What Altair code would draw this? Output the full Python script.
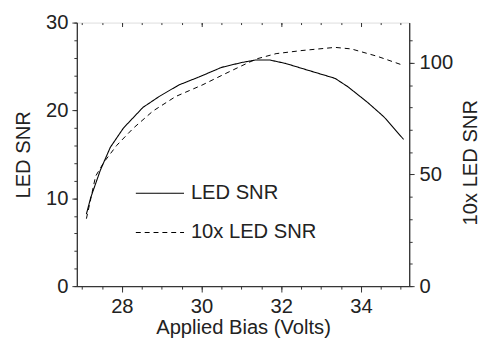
import altair as alt
import pandas as pd

# Solid curve: LED SNR (left axis)
bias_solid = [27.11, 27.22, 27.46, 27.71, 28.04, 28.53, 28.94, 29.43, 29.93, 30.50,
              31.00, 31.37, 31.70, 32.11, 32.69, 33.35, 33.67, 34.17, 34.58, 35.07]
snr_solid = [8.2, 10.1, 13.2, 15.8, 18.0, 20.35, 21.6, 22.9, 23.8, 24.9,
             25.45, 25.75, 25.75, 25.35, 24.55, 23.65, 22.7, 20.9, 19.25, 16.7]

# Dashed curve: 10x LED SNR (right axis)
bias_dashed = [27.11, 27.22, 27.34, 27.55, 27.87, 28.28, 28.78, 29.35, 30.01, 30.58,
               31.00, 31.37, 31.87, 32.52, 33.35, 33.76, 34.41, 35.07]
snr10_dashed = [30.2, 39.1, 49.2, 55.5, 63.0, 70.6, 78.4, 84.9, 90.0, 95.0,
                98.6, 101.7, 104.1, 105.5, 106.9, 106.2, 102.9, 98.8]

series_names = ["LED SNR", "10x LED SNR"]
x_major = [28, 30, 32, 34]
x_minor = [27 + 0.5 * i for i in range(17)]
yl_major = [0, 10, 20, 30]
yl_minor = [2 * i for i in range(16)]
yr_major = [0, 50, 100]
yr_minor = [10 * i for i in range(12)]

df_s = pd.DataFrame({"bias": bias_solid, "v": snr_solid, "series": series_names[0]})
df_d = pd.DataFrame({"bias": bias_dashed, "v": snr10_dashed, "series": series_names[1]})

FONT = "Liberation Sans"
FS = 20.5
TXT = "#222222"
AX = "#333333"
XDOM = [26.87, 35.21]

dash_scale = alt.Scale(domain=series_names, range=[[1, 0], [5, 4]])
legend = alt.Legend(title=None, orient="none", legendX=59, legendY=148,
                    symbolType="stroke", symbolSize=2401, symbolStrokeWidth=1.1,
                    symbolStrokeColor="black", labelFontSize=FS, labelFont=FONT,
                    labelColor=TXT, labelOffset=6, rowPadding=4, symbolOffset=0,
                    padding=0)

def xaxis(orient, values, size, labels=True, title=None, offset=0):
    kw = dict(orient=orient, values=values, tickSize=size, grid=False,
              labels=labels, domainColor=AX, tickColor=AX, domainWidth=1, tickWidth=1,
              labelFont=FONT, labelFontSize=FS, labelColor=TXT, labelPadding=5,
              titleFont=FONT, titleFontSize=FS, titleColor=TXT, titleFontWeight="normal",
              titlePadding=1, offset=offset)
    kw["title"] = title if title else None
    if orient == "top":
        kw["domain"] = False
    return alt.Axis(**kw)

def yaxis(orient, values, size, labels=True, title=None, **extra):
    kw = dict(orient=orient, values=values, tickSize=size, grid=False,
              labels=labels, domainColor=AX, tickColor=AX, domainWidth=1, tickWidth=1,
              labelFont=FONT, labelFontSize=FS, labelColor=TXT, labelPadding=4,
              titleFont=FONT, titleFontSize=FS, titleColor=TXT, titleFontWeight="normal",
              title=title if title else None)
    kw.update(extra)
    return alt.Axis(**kw)

xs = alt.Scale(domain=XDOM, nice=False, zero=False)
yls = alt.Scale(domain=[0, 30], nice=False)
yrs = alt.Scale(domain=[0, 118], nice=False)

base_s = alt.Chart(df_s)
L1 = base_s.mark_line(color="black", strokeWidth=1.1).encode(
    x=alt.X("bias:Q", scale=xs, axis=xaxis("bottom", x_major, 6, title="Applied Bias (Volts)")),
    y=alt.Y("v:Q", scale=yls, axis=yaxis("left", yl_major, 5, title="LED SNR", titlePadding=12)),
    strokeDash=alt.StrokeDash("series:N", scale=dash_scale, legend=legend),
)
L2 = base_s.mark_line(opacity=0).encode(
    x=alt.X("bias:Q", scale=xs, axis=xaxis("bottom", x_minor, 3, labels=False)),
    y=alt.Y("v:Q", scale=yls, axis=yaxis("left", yl_minor, 3, labels=False)),
)
L3 = base_s.mark_line(opacity=0).encode(
    x=alt.X("bias:Q", scale=xs, axis=xaxis("top", x_major, 4, labels=False, offset=-4)),
    y=alt.Y("v:Q", scale=yls, axis=None),
)
L4 = base_s.mark_line(opacity=0).encode(
    x=alt.X("bias:Q", scale=xs, axis=xaxis("top", x_minor, 2, labels=False, offset=-2)),
    y=alt.Y("v:Q", scale=yls, axis=None),
)
left = alt.layer(L1, L2, L3, L4).resolve_axis(x="independent", y="independent")

base_d = alt.Chart(df_d)
R1 = base_d.mark_line(color="black", strokeWidth=1.0).encode(
    x=alt.X("bias:Q", scale=xs, axis=None),
    y=alt.Y("v:Q", scale=yrs, axis=yaxis("right", yr_major, 5, title="10x LED SNR",
                                          titleAngle=270, titlePadding=28, labelPadding=5,
                                          titleY=142)),
    strokeDash=alt.StrokeDash("series:N", scale=dash_scale, legend=legend),
)
R2 = base_d.mark_line(opacity=0).encode(
    x=alt.X("bias:Q", scale=xs, axis=None),
    y=alt.Y("v:Q", scale=yrs, axis=yaxis("right", yr_minor, 3, labels=False)),
)
right = alt.layer(R1, R2).resolve_axis(y="independent")

chart = alt.layer(left, right).resolve_scale(y="independent").resolve_axis(
    x="independent", y="independent"
).properties(
    width=338, height=268,
    autosize=alt.AutoSizeParams(type="none"),
    padding={"left": 70, "top": 12, "right": 73, "bottom": 56},
).configure_view(stroke=AX, strokeWidth=1).configure(background="white")

chart.save("out.html", embed_options={"renderer": "svg", "actions": False})
